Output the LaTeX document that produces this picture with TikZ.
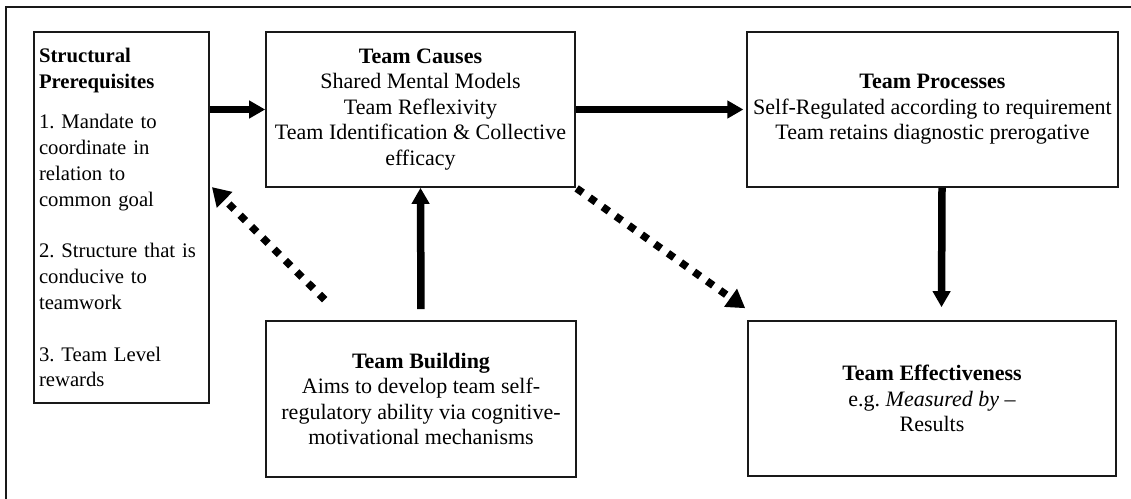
\documentclass[tikz,border=0pt]{standalone}
\usepackage{fontspec}
\setmainfont{Liberation Serif}
\usetikzlibrary{arrows.meta}
\frenchspacing
\begin{document}
\begin{tikzpicture}[x=1pt,y=-1pt,
  box/.style={draw=black!90, line width=1.6pt, rectangle, inner sep=6pt,
    align=center, font=\fontsize{22}{25.5}\selectfont},
  solidarrow/.style={line width=7.5pt, -{Triangle[length=16pt,width=17pt]}},
  dotarrow/.style={line width=7.5pt, dash pattern=on 7.5pt off 8.5pt,
    -{Triangle[length=18pt,width=21pt]}}]
\useasboundingbox (0,0) rectangle (1131,498);
\clip (0,0) rectangle (1131,498);
\fill[white] (0,0) rectangle (1131,498);

% outer frame (runs off the page on the right and bottom)
\draw[line width=1.6pt, black!90] (6,520) -- (6,7) -- (1150,7);

% boxes
\node[box, minimum width=175pt, minimum height=371pt, text width=165pt,
  inner xsep=5pt, align=left, font=\fontsize{20.7}{25.8}\selectfont]
  (pre) at (121.5,217.5) {%
  \textbf{Structural}\\ \textbf{Prerequisites}\\[15pt]
  1. Mandate to\\ coordinate in\\ relation to\\ common goal\\[25.8pt]
  2. Structure that is\\ conducive to\\ teamwork\\[25.8pt]
  3. Team Level\\ rewards};

\node[box, minimum width=309pt, minimum height=155pt] (causes) at (420.5,109.5) {%
  \textbf{Team Causes}\\ Shared Mental Models\\ Team Reflexivity\\
  Team Identification \& Collective\\ efficacy};

\node[box, minimum width=369pt, minimum height=155pt] (proc) at (932.5,109.5) {%
  \textbf{Team Processes}\\ Self-Regulated according to requirement\\
  Team retains diagnostic prerogative};

\node[box, minimum width=310pt, minimum height=156pt] (build) at (421,399) {%
  \textbf{Team Building}\\ Aims to develop team self-\\
  regulatory ability via cognitive-\\ motivational mechanisms};

\node[box, minimum width=368pt, minimum height=155pt] (eff) at (932,398.5) {%
  \textbf{Team Effectiveness}\\ e.g. \textit{Measured by} \textendash\\ Results};

% anchor points for the connectors
\coordinate (preR) at (pre.east |- causes.west);
\coordinate (procS) at ([xshift=9.5pt]proc.south);
\coordinate (effN) at ([xshift=9.5pt,yshift=13pt]eff.north);
\coordinate (buildA) at ([xshift=80pt]build.north west);
\coordinate (preB) at (pre.east |- 0,185);
\coordinate (effA) at ([xshift=-2pt,yshift=12pt]eff.north west);

% connectors
\draw[solidarrow] (preR) -- (causes.west);
\draw[solidarrow, shorten >=3pt] (causes.east) -- (proc.west);
\draw[solidarrow] (procS) -- (effN);
\draw[solidarrow, shorten <=11pt] (build.north) -- (causes.south);
\draw[dotarrow, shorten <=29pt, shorten >=3pt] (buildA) -- (preB);
\draw[dotarrow, shorten <=1pt] (causes.south east) -- (effA);
\end{tikzpicture}
\end{document}
